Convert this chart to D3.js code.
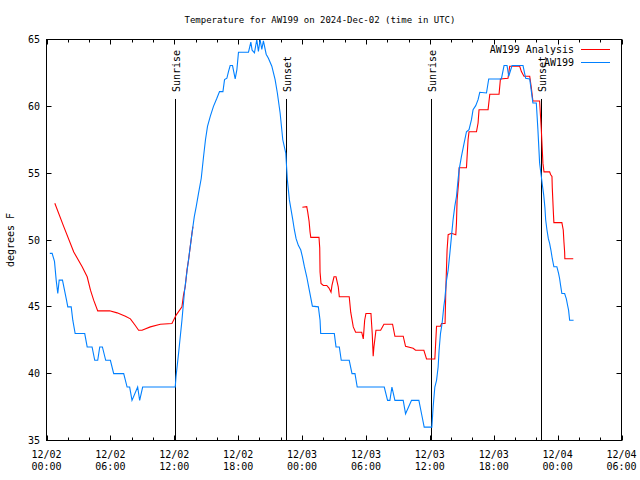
<!DOCTYPE html>
<html><head><meta charset="utf-8">
<script src="https://cdn.jsdelivr.net/npm/d3@7"></script>
<style>
body{margin:0;background:#fff;}
text{font-family:"DejaVu Sans Mono","Liberation Mono",monospace;font-size:10px;fill:#000;}
</style></head>
<body><svg id="c" width="640" height="480"></svg>
<script>
// ---- data (hours since 2024-12-02 00:00 UTC, temperature in °F) ----
const obsHours = [0.31,0.53,0.75,0.91,1.06,1.19,1.5,1.69,1.88,2.0,2.32,2.47,2.69,3.59,3.82,4.28,4.53,4.81,5.0,5.25,5.56,6.0,6.31,7.25,7.57,7.81,8.03,8.56,8.75,9.03,12.09,12.16,12.40,12.72,12.97,13.25,13.5,13.75,13.88,14.06,14.28,14.53,14.75,14.93,15.12,15.38,15.68,16.0,16.25,16.57,16.72,16.94,17.09,17.25,17.47,17.72,17.88,18.03,18.97,19.19,19.31,19.53,19.75,19.9,20.06,20.22,20.37,20.63,20.84,21.16,21.47,21.68,21.94,22.19,22.47,22.62,22.81,22.97,23.13,23.28,23.44,23.65,23.88,24.03,24.22,24.44,24.68,24.97,25.53,25.69,25.75,27.03,27.19,27.5,27.68,28.43,28.69,28.97,29.18,31.72,32.03,32.25,32.44,32.72,33.5,33.72,34.28,34.97,35.22,35.47,36.19,36.31,36.47,36.63,36.78,36.87,37.0,37.15,37.31,37.41,37.57,37.72,37.88,38.03,38.18,38.34,38.5,38.65,38.75,38.97,39.22,39.44,39.68,39.91,40.06,40.31,40.53,40.69,41.32,41.53,42.72,42.97,43.25,43.41,43.72,44.75,45.0,45.38,45.68,46.0,46.15,46.31,46.47,46.57,46.69,46.81,46.88,47.0,47.13,47.25,47.37,47.5,47.65,47.93,48.09,48.19,48.28,48.4,48.66,48.82,48.94,49.03,49.13,49.5];
const obsTemps = [49,49,48.4,47,46,47,47,46.25,45.5,45,45,44,43,43,42,42,41,41,42,42,41,41,40,40,39,39,38,39,38,39,39,39.75,41.5,44,46.25,48,49.5,51,51.75,52.5,53.5,54.6,56.25,57.5,58.5,59.25,60,60.6,61.1,61.1,62,62.1,62.6,63.05,63.05,62.05,62.75,64.05,64.05,64.8,64.2,64,65,64.1,65,64.25,64.9,63.9,63.6,63,62,61,59.5,57.5,56.5,54.5,53,52.25,51.5,50.75,50.1,49.6,49.25,48.75,48,47.25,46.25,45.05,45,44,43,43,42,42,41,41,40,40,39,39,38,38,39,38,38,37,38,38,37,36,36,37.5,39,39.5,40.5,41.75,43,43.75,45,45.6,47,47.75,49,50.25,51.5,52.5,53.25,54.5,55.25,56.25,57.25,58.1,58.25,59,59.75,60.05,60.5,61.05,61,62.05,62.05,63.05,63.05,62.25,63.05,63.05,62.1,62.05,60.25,60.25,58.25,55.75,54.75,54.1,53.4,52.4,51.5,50.75,50.1,49.75,49.25,48.6,48,48,47.5,47.1,46.6,46,46,45.6,45.1,44.75,44,44];

const anaHours = [0.78,1.62,2.56,3.35,3.82,4.13,4.43,4.81,5.93,6.63,7.41,7.88,8.34,8.65,8.97,9.75,10.69,11.78,12.19,12.72,12.87,13.03,13.19,13.34,13.5,13.66,13.75,null,24.03,24.44,24.53,24.66,24.75,24.82,25.59,25.66,25.69,25.78,26.0,26.32,26.53,26.72,26.81,27.0,27.19,27.4,27.5,28.43,28.57,28.81,29.03,29.6,29.75,29.88,30.0,30.47,30.59,30.68,30.75,30.94,31.38,31.69,32.5,32.72,33.5,33.72,34.43,34.66,35.44,35.69,36.47,36.63,37.0,37.1,37.43,37.5,37.62,37.72,38.03,38.44,38.5,38.56,38.72,38.75,39.44,39.59,39.68,40.38,40.53,40.62,41.47,41.63,42.5,42.63,43.34,43.5,44.44,44.6,44.84,45.38,45.53,45.68,46.31,46.47,46.62,46.72,47.25,47.34,47.47,47.5,47.6,47.65,48.4,48.53,48.59,48.66,48.68,49.47];
const anaTemps = [52.75,51,49.1,48,47.25,46.25,45.5,44.7,44.7,44.55,44.3,44.1,43.6,43.25,43.25,43.5,43.7,43.75,44.4,45,45.9,46.5,47.75,48.5,49.5,50.5,51,null,52.45,52.5,52.1,51.4,50.6,50.2,50.2,49.4,47.6,46.75,46.6,46.6,46.4,46.1,46.6,47.25,47.25,46.5,45.75,45.75,44.6,43.5,43.1,43.1,42.6,44,44.5,44.5,43,41.3,42,43.25,43.25,43.7,43.7,42.8,42.8,42.05,41.9,41.75,41.75,41.1,41.1,43.55,43.55,43.75,43.75,46.25,49.25,50.4,50.5,50.4,51.25,53,54.5,55.4,55.4,57.5,58.1,58.1,58.75,59.75,59.75,60.9,60.9,62.05,62.1,63,63,62.6,62.25,62.25,61.4,60.4,60.4,58.25,55.75,55.1,55.1,54.9,54.75,53.9,52.1,51.3,51.3,50.75,49.9,49.1,48.6,48.6];

const eventNames = ["Sunrise","Sunset","Sunrise","Sunset"];
const eventHours = [12.09,22.5,36.09,46.41];
const eventTop = 60.55;

const xTickHours = [0,6,12,18,24,30,36,42,48,54];
const xTickDate = ["12/02","12/02","12/02","12/02","12/03","12/03","12/03","12/03","12/04","12/04"];
const xTickTime = ["00:00","06:00","12:00","18:00","00:00","06:00","12:00","18:00","00:00","06:00"];
const yTicks = [35,40,45,50,55,60,65];
const seriesNames = ["AW199 Analysis","AW199"];
const seriesColors = ["#ff0000","#0080ff"];
const title = "Temperature for AW199 on 2024-Dec-02 (time in UTC)";
const yLabel = "degrees F";

// ---- drawing ----
const svg = d3.select("#c");
const L=46.5, R=621.5, T=39.5, B=440.5;
const x = d3.scaleLinear().domain([0,54]).range([L,R]);
const y = d3.scaleLinear().domain([35,65]).range([B,T]);

svg.append("text").attr("x",320).attr("y",20).attr("dy","0.35em").attr("text-anchor","middle").style("font-size","9px").text(title);
svg.append("text").attr("transform","translate(10,240) rotate(-90)").attr("dy","0.35em").attr("text-anchor","middle").text(yLabel);

const g = svg.append("g");
d3.range(0,55,2).forEach(h=>{
  const major = h%6===0;
  const len = major?5:3;
  const xx = Math.round(x(h))+0.5;
  g.append("line").attr("x1",xx).attr("x2",xx).attr("y1",B).attr("y2",B-len).attr("stroke","#000");
  g.append("line").attr("x1",xx).attr("x2",xx).attr("y1",T).attr("y2",T+len).attr("stroke","#000");
});
xTickHours.forEach((h,i)=>{
  g.append("text").attr("x",x(h)).attr("y",458).attr("text-anchor","middle").text(xTickDate[i]);
  g.append("text").attr("x",x(h)).attr("y",470).attr("text-anchor","middle").text(xTickTime[i]);
});
yTicks.forEach(v=>{
  const yy = Math.round(y(v)-0.5)+0.5;
  g.append("line").attr("x1",L).attr("x2",L+5).attr("y1",yy).attr("y2",yy).attr("stroke","#000");
  g.append("line").attr("x1",R).attr("x2",R-5).attr("y1",yy).attr("y2",yy).attr("stroke","#000");
  g.append("text").attr("x",40).attr("y",y(v)).attr("dy","0.35em").attr("text-anchor","end").text(v);
});

// event lines
eventHours.forEach((h,i)=>{
  const xx = Math.round(x(h))+0.5;
  svg.append("line").attr("x1",xx).attr("x2",xx).attr("y1",y(eventTop)).attr("y2",B).attr("stroke","#000").attr("stroke-width",1);
  svg.append("text").attr("transform",`translate(${xx+0.5},92) rotate(-90)`).attr("dy","0.35em").attr("text-anchor","start").text(eventNames[i]);
});

const line = d3.line().defined(d=>d[0]!==null && d[1]!==null).x(d=>x(d[0])).y(d=>y(d[1]));
const anaData = anaHours.map((h,i)=>[h,anaTemps[i]]);
const obsData = obsHours.map((h,i)=>[h,obsTemps[i]]);
svg.append("path").datum(anaData).attr("d",line).attr("fill","none").attr("stroke",seriesColors[0]).attr("stroke-width",1.1);
svg.append("path").datum(obsData).attr("d",line).attr("fill","none").attr("stroke",seriesColors[1]).attr("stroke-width",1.1);

// legend
seriesNames.forEach((n,i)=>{
  const yy = 49.5 + i*13;
  svg.append("text").attr("x",574).attr("y",yy).attr("dy","0.35em").attr("text-anchor","end").text(n);
  svg.append("line").attr("x1",581).attr("x2",610).attr("y1",yy).attr("y2",yy).attr("stroke",seriesColors[i]).attr("stroke-width",1);
});

svg.append("rect").attr("x",L).attr("y",T).attr("width",R-L).attr("height",B-T).attr("fill","none").attr("stroke","#000");
</script></body></html>
